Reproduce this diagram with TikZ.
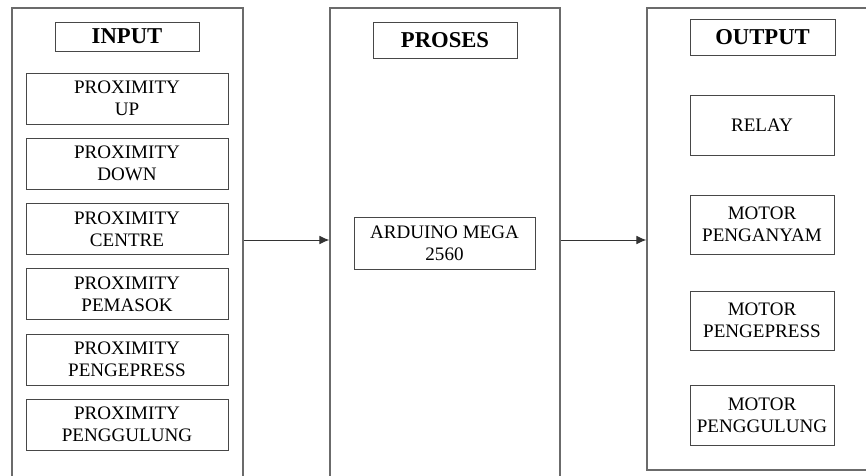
\documentclass[tikz,border=0pt]{standalone}
\usepackage{fontspec}
\setmainfont{Liberation Serif}
\usetikzlibrary{arrows.meta}
\begin{document}
\begin{tikzpicture}[x=0.75pt,y=-0.75pt,
  outerbox/.style={draw=black!58,line width=0.85pt,rectangle,inner sep=0pt},
  titlebox/.style={draw=black!72,line width=0.75pt,rectangle,inner sep=0pt,
    font=\fontsize{17}{19}\selectfont\bfseries},
  itembox/.style={draw=black!72,line width=0.75pt,rectangle,inner sep=0pt,
    align=center,font=\fontsize{14.3}{16.5}\selectfont},
  link/.style={draw=black!80,line width=0.75pt,-{Latex[length=7.5pt,width=6.5pt]}}]
\clip (0,0) rectangle (866,475);
\fill[white] (0,0) rectangle (866,475);

% outer frames
\node[outerbox,minimum width=173.25pt,minimum height=361.5pt] (inp) at (127.5,249) {};
\node[outerbox,minimum width=172.5pt,minimum height=361.5pt] (proc) at (445,249) {};
\node[outerbox,minimum width=167.25pt,minimum height=346.5pt] (outp) at (758.5,239) {};

% input column
\node[titlebox,minimum width=108pt,minimum height=21.75pt] (tin) at (127,36.5) {INPUT};
\foreach \n/\y/\t in {i1/98.5/UP, i2/163.5/DOWN, i3/229/CENTRE,
                      i4/294/PEMASOK, i5/359.5/PENGEPRESS, i6/424.5/PENGGULUNG}
  \node[itembox,minimum width=151.5pt,minimum height=38.25pt] (\n) at (127,\y) {PROXIMITY\\\t};

% process column
\node[titlebox,minimum width=108pt,minimum height=27pt] (tproc) at (445,40) {PROSES};
\node[itembox,minimum width=135.75pt,minimum height=39pt] (ard) at (444.5,243) {ARDUINO MEGA\\2560};

% output column
\node[titlebox,minimum width=108.75pt,minimum height=27pt] (tout) at (762.5,37) {OUTPUT};
\node[itembox,minimum width=108pt,minimum height=45pt] (o1) at (762,125) {RELAY};
\node[itembox,minimum width=108pt,minimum height=44.25pt] (o2) at (762,224.5) {MOTOR\\PENGANYAM};
\node[itembox,minimum width=108pt,minimum height=44.25pt] (o3) at (762,320.5) {MOTOR\\PENGEPRESS};
\node[itembox,minimum width=108pt,minimum height=45pt] (o4) at (762,415) {MOTOR\\PENGGULUNG};

% signal flow
\draw[link] (inp.east |- 0,240) -- (proc.west |- 0,240);
\draw[link] (proc.east |- 0,240) -- (outp.west |- 0,240);
\end{tikzpicture}
\end{document}
